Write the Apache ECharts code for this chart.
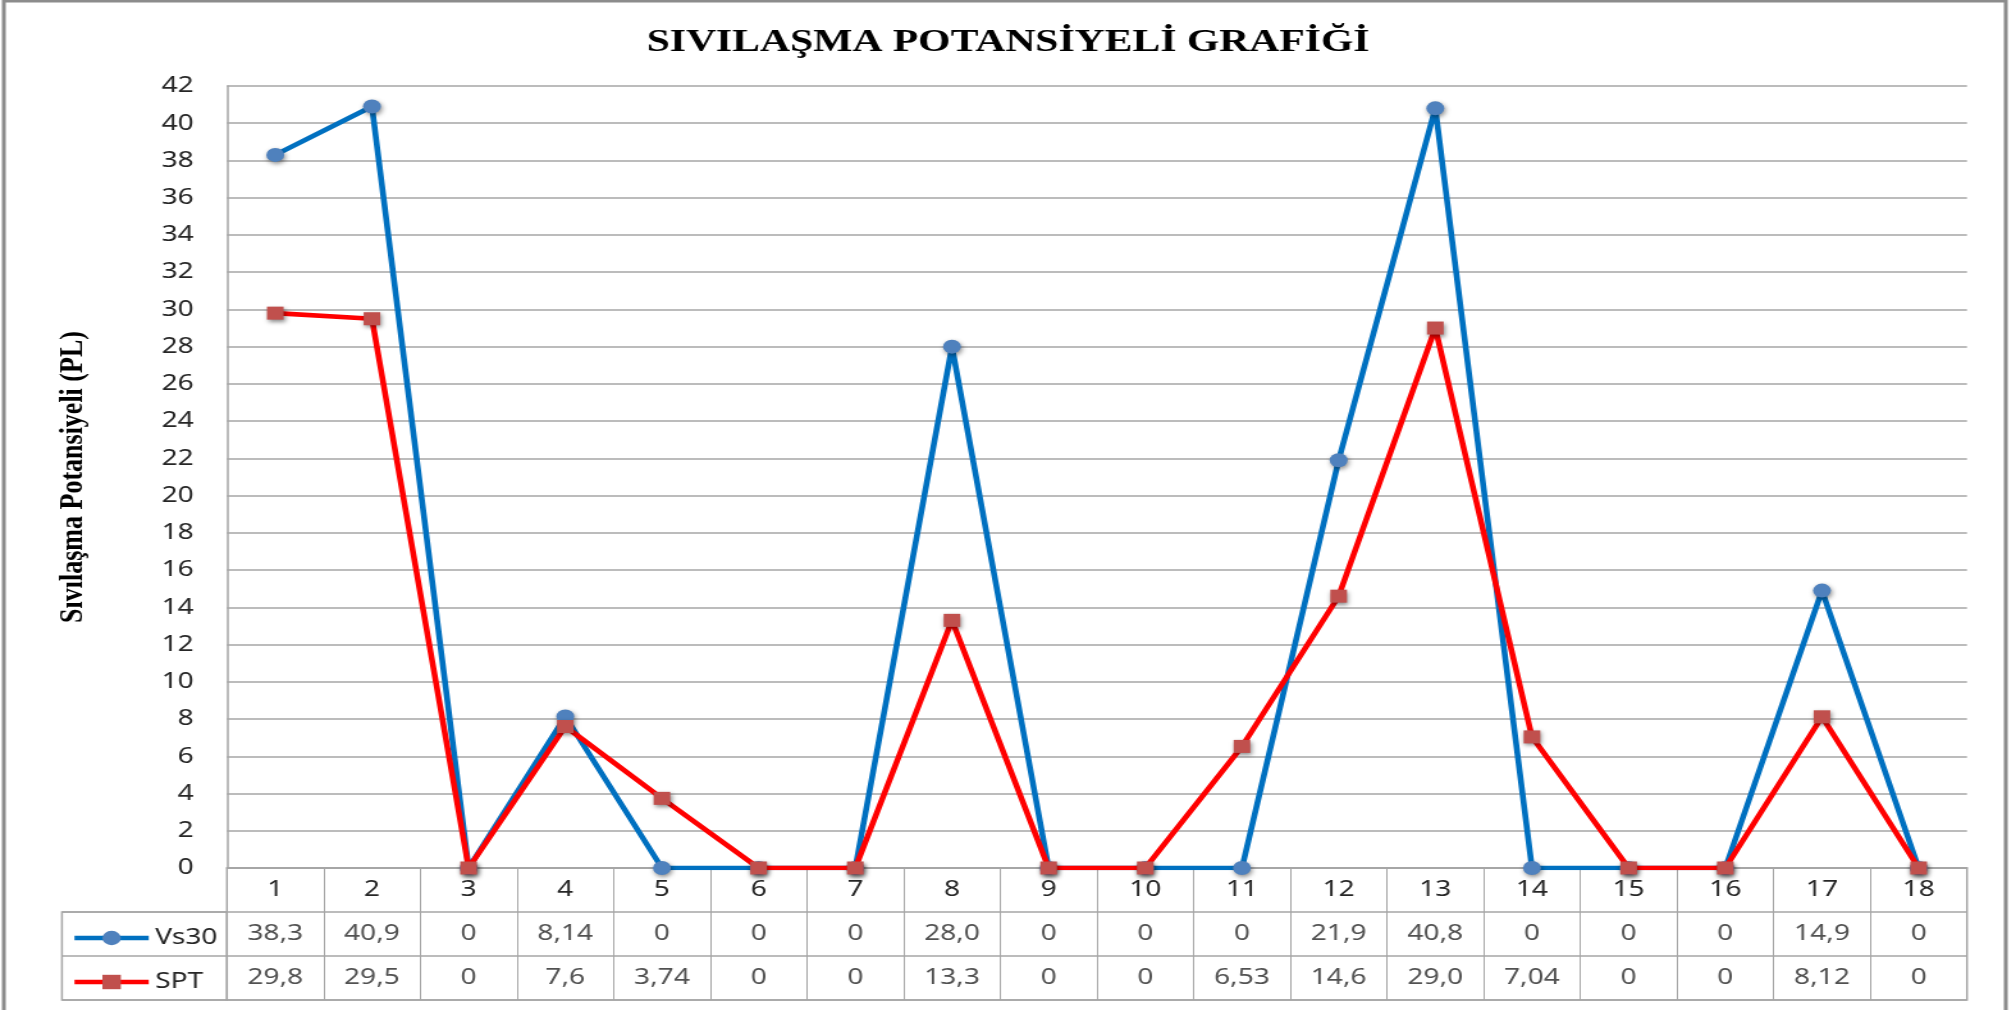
<!DOCTYPE html>
<html>
<head>
<meta charset="utf-8">
<script src="https://cdn.jsdelivr.net/npm/echarts@6/dist/echarts.min.js"></script>
<style>
  html, body { margin: 0; padding: 0; background: #ffffff; overflow: hidden; }
  /* the chart is laid out on a narrower canvas and widened to the page */
  #chart { width: 1575px; height: 1010px; transform: scaleX(1.28); transform-origin: 0 0; }
</style>
</head>
<body>
<div id="chart"></div>
<script>
// Sondaj noktaları
const categories = ['1', '2', '3', '4', '5', '6', '7', '8', '9', '10', '11', '12', '13', '14', '15', '16', '17', '18'];

// Sıvılaşma potansiyeli değerleri (tabloda yazıldığı biçimde)
const vs30Labels = ['38,3', '40,9', '0', '8,14', '0', '0', '0', '28,0', '0', '0', '0', '21,9', '40,8', '0', '0', '0', '14,9', '0'];
const sptLabels  = ['29,8', '29,5', '0', '7,6', '3,74', '0', '0', '13,3', '0', '0', '6,53', '14,6', '29,0', '7,04', '0', '0', '8,12', '0'];

// Düşey eksen
const yMin = 0;
const yMax = 42;
const yStep = 2;

const seriesNames = ['Vs30', 'SPT'];
const tableRows = ['', 'Vs30', 'SPT'];

const toNumber = s => parseFloat(s.replace(',', '.'));
const vs30Values = vs30Labels.map(toNumber);
const sptValues = sptLabels.map(toNumber);

// tablo hücreleri: [sütun, satır, metin]
const tableCells = [];
vs30Labels.forEach((t, i) => tableCells.push([i, 1, t]));
sptLabels.forEach((t, i) => tableCells.push([i, 2, t]));

const textFont = 'Noto Sans';
const textColor = '#262626';
const gridColor = '#a6a6a6';
const plotLeft = 177.3, plotWidth = 1359.4;

const markerShadow = { shadowBlur: 4, shadowColor: 'rgba(0,0,0,0.45)', shadowOffsetX: 1, shadowOffsetY: 2 };

const chart = echarts.init(document.getElementById('chart'), null, { renderer: 'canvas' });

chart.setOption({
  animation: false,
  backgroundColor: '#ffffff',
  title: {
    text: 'SIVILAŞMA POTANSİYELİ GRAFİĞİ',
    left: 'center',
    top: 21,
    textStyle: { fontFamily: 'Liberation Serif', fontWeight: 'bold', fontSize: 32.5, color: '#000000' }
  },
  legend: {
    data: seriesNames,
    orient: 'vertical',
    left: 51,
    top: 922,
    itemWidth: 58,
    itemHeight: 18,
    itemGap: 22,
    lineStyle: { width: 4.4 },
    textStyle: { fontFamily: textFont, fontSize: 22, color: textColor, lineHeight: 22 }
  },
  graphic: [{
    type: 'rect',
    silent: true,
    shape: { x: 3, y: 1, width: 1564, height: 1020 },
    style: { fill: 'none', stroke: '#8c8c8c', lineWidth: 3 }
  }],
  grid: [
    { left: plotLeft, top: 86, width: plotWidth, height: 782 },
    { left: plotLeft, top: 868, width: plotWidth, height: 132, show: true, borderColor: gridColor, borderWidth: 1.5 },
    { left: 48.4, top: 912, width: 128.9, height: 88, show: true, borderColor: gridColor, borderWidth: 1.5 }
  ],
  xAxis: [
    {
      gridIndex: 0,
      type: 'category',
      data: categories,
      boundaryGap: true,
      axisLine: { show: true, lineStyle: { color: gridColor, width: 1.5 } },
      axisTick: { show: false },
      axisLabel: { interval: 0, margin: 11, fontFamily: textFont, fontSize: 22, color: textColor },
      splitLine: { show: false }
    },
    {
      gridIndex: 1,
      type: 'category',
      data: categories,
      boundaryGap: true,
      axisLine: { show: false },
      axisTick: { show: false, interval: 0 },
      axisLabel: { show: false, interval: 0 },
      splitLine: { show: true, interval: 0, lineStyle: { color: gridColor, width: 1 } }
    },
    {
      gridIndex: 2,
      type: 'category',
      data: [''],
      axisLine: { show: false },
      axisTick: { show: false },
      axisLabel: { show: false },
      splitLine: { show: false }
    }
  ],
  yAxis: [
    {
      gridIndex: 0,
      type: 'value',
      min: yMin,
      max: yMax,
      interval: yStep,
      name: 'Sıvılaşma Potansiyeli (PL)',
      nameLocation: 'middle',
      nameGap: 107,
      nameRotate: 90,
      nameTextStyle: { fontFamily: 'Liberation Serif', fontWeight: 'bold', fontSize: 26, color: '#000000' },
      axisLine: { show: true, lineStyle: { color: gridColor, width: 1.5 } },
      axisTick: { show: false },
      axisLabel: { margin: 26, fontFamily: textFont, fontSize: 22, color: textColor },
      splitLine: { show: true, lineStyle: { color: gridColor, width: 1.5 } }
    },
    {
      gridIndex: 1,
      type: 'category',
      data: tableRows,
      inverse: true,
      axisLine: { show: false },
      axisTick: { show: false, interval: 0 },
      axisLabel: { show: false, interval: 0 },
      splitLine: { show: true, interval: 0, lineStyle: { color: gridColor, width: 1.5 } }
    },
    {
      gridIndex: 2,
      type: 'category',
      data: seriesNames,
      inverse: true,
      axisLine: { show: false },
      axisTick: { show: false, interval: 0 },
      axisLabel: { show: false, interval: 0 },
      splitLine: { show: true, interval: 0, lineStyle: { color: gridColor, width: 1.5 } }
    }
  ],
  series: [
    {
      name: 'Vs30',
      type: 'line',
      xAxisIndex: 0,
      yAxisIndex: 0,
      data: vs30Values,
      symbol: 'circle',
      symbolSize: 14,
      lineStyle: { color: '#0070c0', width: 4.6 },
      itemStyle: Object.assign({ color: '#4f81bd', borderWidth: 0 }, markerShadow),
      z: 3
    },
    {
      name: 'SPT',
      type: 'line',
      xAxisIndex: 0,
      yAxisIndex: 0,
      data: sptValues,
      symbol: 'rect',
      symbolSize: 13,
      lineStyle: { color: '#ff0000', width: 4.6 },
      itemStyle: Object.assign({ color: '#c0504d', borderWidth: 0 }, markerShadow),
      z: 4
    },
    {
      name: 'tablo',
      type: 'scatter',
      xAxisIndex: 1,
      yAxisIndex: 1,
      data: tableCells,
      symbolSize: 1,
      itemStyle: { color: 'rgba(0,0,0,0)' },
      silent: true,
      label: {
        show: true,
        position: 'inside',
        formatter: p => p.data[2],
        fontFamily: textFont,
        fontSize: 22,
        color: textColor
      }
    }
  ]
});
</script>
</body>
</html>
